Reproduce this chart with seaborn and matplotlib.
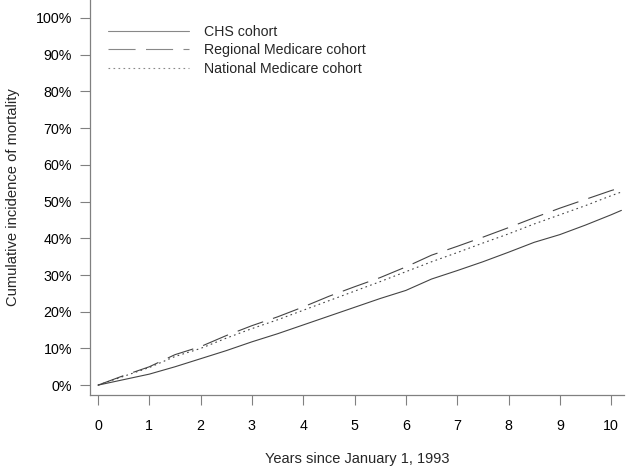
import pandas as pd
import matplotlib
matplotlib.use("Agg")
import matplotlib.pyplot as plt
import seaborn as sns

# Cumulative incidence of mortality (%)
years = [0, 0.5, 1, 1.5, 2, 2.5, 3, 3.5, 4, 4.5, 5, 5.5, 6, 6.5, 7, 7.5, 8, 8.5, 9, 9.5, 10, 10.2]
chs = [0, 1.5, 3.0, 5.0, 7.2, 9.4, 11.8, 14.0, 16.4, 18.8, 21.2, 23.6, 25.8, 28.9, 31.2, 33.6,
       36.2, 38.9, 41.0, 43.6, 46.4, 47.6]
regional = [0, 2.6, 5.0, 8.3, 10.5, 13.5, 16.2, 18.6, 21.3, 24.2, 26.8, 29.3, 32.2, 35.4, 37.8,
            40.3, 42.9, 45.6, 48.2, 50.6, 53.0, 53.8]
national = [0, 2.4, 4.8, 7.8, 10.0, 12.8, 15.4, 17.8, 20.4, 23.0, 25.6, 28.2, 30.9, 33.6, 36.1,
            38.7, 41.2, 43.9, 46.4, 48.9, 51.6, 52.6]
cohorts = ["CHS cohort", "Regional Medicare cohort", "National Medicare cohort"]
yticks = list(range(0, 101, 10))
xticks = list(range(0, 11))

sns.set_style("ticks")
plt.rcParams["font.family"] = ["Liberation Sans", "DejaVu Sans"]
plt.rcParams["lines.scale_dashes"] = False

df = pd.DataFrame({"year": years * 3,
                   "pct": chs + regional + national,
                   "cohort": [cohorts[0]] * len(years) + [cohorts[1]] * len(years) + [cohorts[2]] * len(years)})

fig = plt.figure(figsize=(6.29, 4.72), dpi=100)
ax = fig.add_axes([0.143, 0.163, 0.849, 0.837])

styles = {cohorts[0]: "-", cohorts[1]: (0, (19.5, 7.5)), cohorts[2]: (0, (1.2, 2.4))}
for c in cohorts:
    sns.lineplot(data=df[df["cohort"] == c], x="year", y="pct", color="#444444",
                 linewidth=0.8, linestyle=styles[c], label=c, ax=ax)

ax.set_xlim(-0.156, 10.25)
ax.set_ylim(-2.7, 104.9)
ax.set_xticks(xticks)
ax.set_yticks(yticks)
ax.set_yticklabels([f"{t}%" for t in yticks])
ax.tick_params(axis="both", colors="#808080", labelcolor="black", labelsize=10.3, length=7, width=0.8)
ax.tick_params(axis="x", pad=10)
ax.tick_params(axis="y", pad=6)
for s in ["top", "right"]:
    ax.spines[s].set_visible(False)
for s in ["left", "bottom"]:
    ax.spines[s].set_color("#808080")
    ax.spines[s].set_linewidth(0.9)

ax.set_xlabel("Years since January 1, 1993", fontsize=10.5, labelpad=14)
ax.set_ylabel("Cumulative incidence of mortality", fontsize=10.6, labelpad=11)

leg = ax.legend(loc="upper left", bbox_to_anchor=(0.01, 0.97), frameon=False, fontsize=10.2,
                handlelength=5.7, handletextpad=1.1, labelspacing=0.33)
for line in leg.get_lines():
    line.set_color("#888888")

fig.savefig("out.png", dpi=100)
